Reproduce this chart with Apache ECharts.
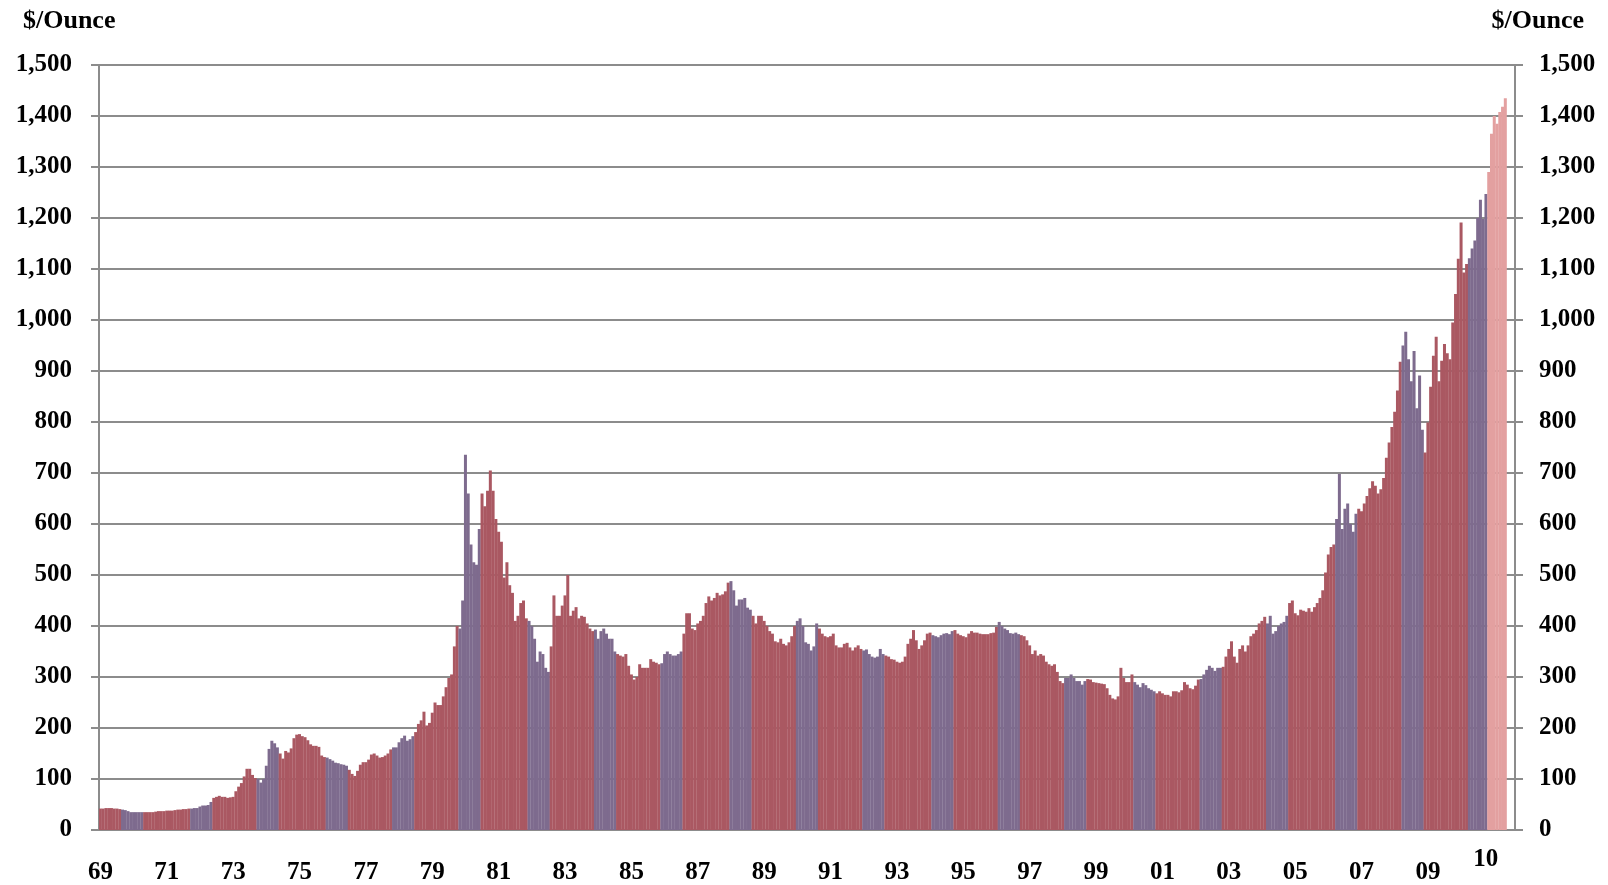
<!DOCTYPE html>
<html>
<head>
<meta charset="utf-8">
<script src="https://cdn.jsdelivr.net/npm/echarts@6.0.0/dist/echarts.min.js"></script>
<style>
	html, body { margin: 0; padding: 0; background: #fff; }
	#gold { width: 1608px; height: 885px; }
</style>
</head>
<body>
<div id="gold"></div>
<script>
// monthly gold price, $/oz, one row per year from 1969
const prices = [
	42, 42, 43, 43, 43, 42, 42, 41, 40, 39, 37, 35,
	35, 35, 35, 35, 35, 35, 35, 35, 36, 37, 37, 37,
	38, 38, 38, 39, 40, 40, 41, 41, 42, 42, 43, 43,
	46, 48, 48, 49, 55, 63, 65, 67, 65, 65, 63, 64,
	65, 76, 85, 92, 105, 120, 120, 108, 102, 100, 93, 100,
	126, 159, 175, 170, 162, 150, 140, 155, 152, 160, 180, 187,
	188, 184, 182, 176, 168, 165, 165, 163, 146, 143, 142, 139,
	136, 132, 131, 129, 128, 126, 118, 110, 106, 116, 128, 133,
	133, 138, 148, 150, 146, 142, 143, 146, 150, 158, 162, 162,
	172, 180, 185, 175, 178, 184, 192, 208, 215, 232, 205, 210,
	230, 250, 245, 245, 262, 280, 298, 305, 360, 400, 395, 450,
	736, 660, 560, 525, 520, 590, 660, 635, 665, 705, 665, 610,
	585, 565, 495, 525, 480, 465, 410, 420, 445, 450, 415, 410,
	400, 375, 330, 350, 345, 318, 310, 360, 460, 420, 420, 440,
	460, 500, 420, 430, 437, 415, 420, 418, 405, 395, 390, 393,
	375, 390, 395, 385, 375, 375, 350, 345, 342, 340, 345, 322,
	305, 295, 300, 325, 318, 318, 318, 335, 330, 328, 325, 327,
	345, 350, 345, 342, 342, 345, 350, 385, 425, 425, 395, 392,
	405, 410, 420, 445, 458, 450, 455, 465, 460, 462, 468, 485,
	488, 470, 440, 452, 452, 455, 436, 432, 420, 405, 420, 420,
	410, 400, 390, 385, 370, 368, 375, 365, 362, 368, 380, 400,
	410, 415, 400, 368, 365, 352, 360, 405, 395, 385, 380, 378,
	380, 385, 362, 358, 358, 365, 367, 358, 352, 358, 362, 355,
	352, 354, 345, 340, 338, 340, 355, 345, 342, 340, 335, 334,
	330, 328, 330, 340, 365, 375, 392, 372, 355, 362, 372, 385,
	387, 382, 380, 378, 382, 385, 386, 384, 390, 392, 385, 382,
	380, 378, 385, 390, 387, 387, 385, 384, 384, 384, 386, 387,
	398, 408, 400, 395, 392, 386, 385, 387, 384, 382, 380, 372,
	362, 345, 352, 342, 345, 342, 330, 325, 322, 325, 310, 292,
	288, 298, 298, 305, 298, 292, 292, 285, 292, 296, 295, 290,
	289, 288, 287, 286, 278, 265, 258, 256, 262, 318, 298, 290,
	290, 305, 290, 285, 280, 288, 284, 278, 275, 272, 268, 272,
	268, 265, 265, 262, 272, 272, 270, 274, 290, 285, 278, 276,
	283, 295, 296, 305, 314, 322, 318, 312, 318, 318, 320, 340,
	355, 370, 340, 328, 355, 362, 350, 362, 380, 385, 392, 405,
	410, 418, 405, 420, 385, 390, 400, 405, 408, 420, 445, 450,
	425, 421, 432, 430, 428, 435, 428, 437, 445, 455, 470, 505,
	540, 555, 560, 610, 698, 590, 630, 640, 600, 585, 620, 630,
	625, 640, 655, 670, 684, 675, 660, 668, 690, 730, 760, 790,
	820, 862, 918, 950, 977, 923, 880, 939, 827, 891, 785, 740,
	799, 869, 930, 967, 880, 920, 953, 935, 923, 995, 1051, 1120,
	1191, 1093, 1110, 1121, 1140, 1156, 1200, 1236, 1198, 1247
]
// latest stretch, drawn lighter
const recent = [ 1290, 1365, 1400, 1385, 1408, 1418, 1435 ]

const firstYear = 1969
const monthCount = 512
const lastLabel = '10'

// month index ranges drawn in the blue-purple tone
const purpleSpans = [
	[ 8, 16 ], [ 33, 41 ], [ 57, 65 ], [ 82, 90 ], [ 106, 114 ], [ 130, 138 ], [ 155, 163 ],
	[ 179, 187 ], [ 203, 211 ], [ 228, 236 ], [ 252, 260 ], [ 276, 284 ], [ 301, 309 ], [ 325, 333 ],
	[ 349, 357 ], [ 374, 382 ], [ 398, 406 ], [ 422, 430 ], [ 447, 455 ], [ 471, 479 ], [ 495, 502 ]
]

const months = []
for (let i = 0; i < monthCount; i++) {
	const y = firstYear + Math.floor(i / 12)
	const m = (i % 12) + 1
	months.push(y + '-' + (m < 10 ? '0' + m : m))
}

const red = '#aa5862'
const purple = '#7e6b8e'
const pink = '#e3a0a0'
const grey = '#8c8c8c'
const font = '"Liberation Serif", "Times New Roman", serif'

const barColor = (i) => {
	if (i >= prices.length) return pink
	for (const [ a, b ] of purpleSpans) {
		if (i >= a && i < b) return purple
	}
	return red
}

const labelStyle = {
	color: '#000',
	fontFamily: font,
	fontWeight: 'bold',
	fontSize: 25
}

const yAxis = (side, margin) => ({
	type: 'value',
	position: side,
	min: 0,
	max: 1500,
	interval: 100,
	axisLine: { show: true, lineStyle: { color: grey, width: 2 } },
	axisTick: { show: true, length: 8, lineStyle: { color: grey, width: 2 } },
	axisLabel: Object.assign({
		margin: margin,
		padding: [ 5, 0, 0, 0 ],
		formatter: (v) => v.toLocaleString('en-US')
	}, labelStyle),
	splitLine: { show: side === 'left', lineStyle: { color: grey, width: 2 } }
})

const options = {
	animation: false,
	title: [
		{ text: '$/Ounce', left: 23, top: 8, padding: 0, textStyle: Object.assign({}, labelStyle, { fontSize: 26 }) },
		{ text: '$/Ounce', right: 24, top: 8, padding: 0, textStyle: Object.assign({}, labelStyle, { fontSize: 26 }) }
	],
	grid: { left: 99, right: 93, top: 65, bottom: 54 },
	xAxis: {
		type: 'category',
		data: months,
		axisLine: { lineStyle: { color: grey, width: 2 } },
		axisTick: { length: 8, interval: (i) => i % 12 === 0, lineStyle: { color: grey, width: 2 } },
		axisLabel: Object.assign({
			margin: 30,
			interval: (i) => i % 24 === 0 && i < prices.length,
			formatter: (v) => v.slice(2, 4)
		}, labelStyle),
		splitLine: { show: false }
	},
	yAxis: [ yAxis('left', 27), yAxis('right', 24) ],
	series: [
		{
			type: 'bar',
			data: prices.concat(recent),
			barWidth: 3,
			itemStyle: { color: (p) => barColor(p.dataIndex) }
		}
	]
}

const chart = echarts.init(document.getElementById('gold'))
chart.setOption(options)

// the last year's label sits over the light bars, a little higher
const lastX = chart.convertToPixel({ xAxisIndex: 0 }, months[prices.length])
chart.setOption({
	graphic: [
		{
			type: 'text',
			x: lastX - 3,
			y: 847,
			style: Object.assign({ text: lastLabel, textAlign: 'center', fill: '#000', font: 'bold 25px ' + font })
		}
	]
})
</script>
</body>
</html>
